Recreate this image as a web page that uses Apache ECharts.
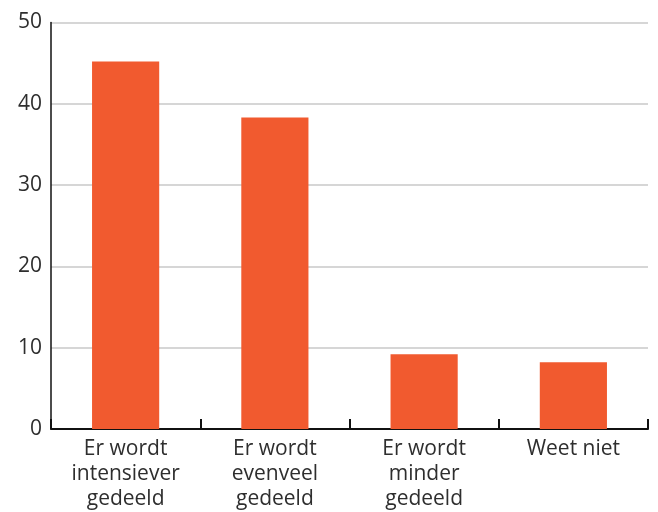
<!DOCTYPE html>
<html>
<head>
<meta charset="utf-8">
<script src="https://cdn.jsdelivr.net/npm/echarts@6/dist/echarts.min.js"></script>
<style>
html,body{margin:0;padding:0;background:#fff;}
#chart{width:658px;height:512px;}
</style>
</head>
<body>
<div id="chart"></div>
<script>
var categories = ["Er wordt\nintensiever\ngedeeld", "Er wordt\nevenveel\ngedeeld", "Er wordt\nminder\ngedeeld", "Weet niet"];
var values = [45.2, 38.3, 9.2, 8.2];
var yTicks = [0, 10, 20, 30, 40, 50];

var chart = echarts.init(document.getElementById('chart'), null, {renderer: 'canvas'});
chart.setOption({
  animation: false,
  backgroundColor: '#ffffff',
  grid: {left: 51, right: 10, top: 22.5, bottom: 81.5, containLabel: false},
  xAxis: {
    type: 'category',
    data: categories,
    axisLine: {show: true, lineStyle: {color: '#111', width: 2}},
    axisTick: {show: true, inside: true, length: 10, lineStyle: {color: '#111', width: 2}},
    axisLabel: {
      color: '#2e2e2e', fontFamily: 'Open Sans', fontSize: 21, lineHeight: 25, margin: 8, interval: 0
    },
    splitLine: {show: false}
  },
  yAxis: {
    type: 'value',
    min: yTicks[0],
    max: yTicks[yTicks.length - 1],
    interval: 10,
    axisLine: {show: true, lineStyle: {color: '#111', width: 1.5}},
    axisTick: {show: false},
    axisLabel: {color: '#2e2e2e', fontFamily: 'Open Sans', fontSize: 21, margin: 9},
    splitLine: {show: true, lineStyle: {color: '#c8c8c8', width: 1.5}}
  },
  series: [{
    type: 'bar',
    data: values,
    barWidth: '45%',
    itemStyle: {color: '#F15A2F'}
  }]
});
</script>
</body>
</html>
